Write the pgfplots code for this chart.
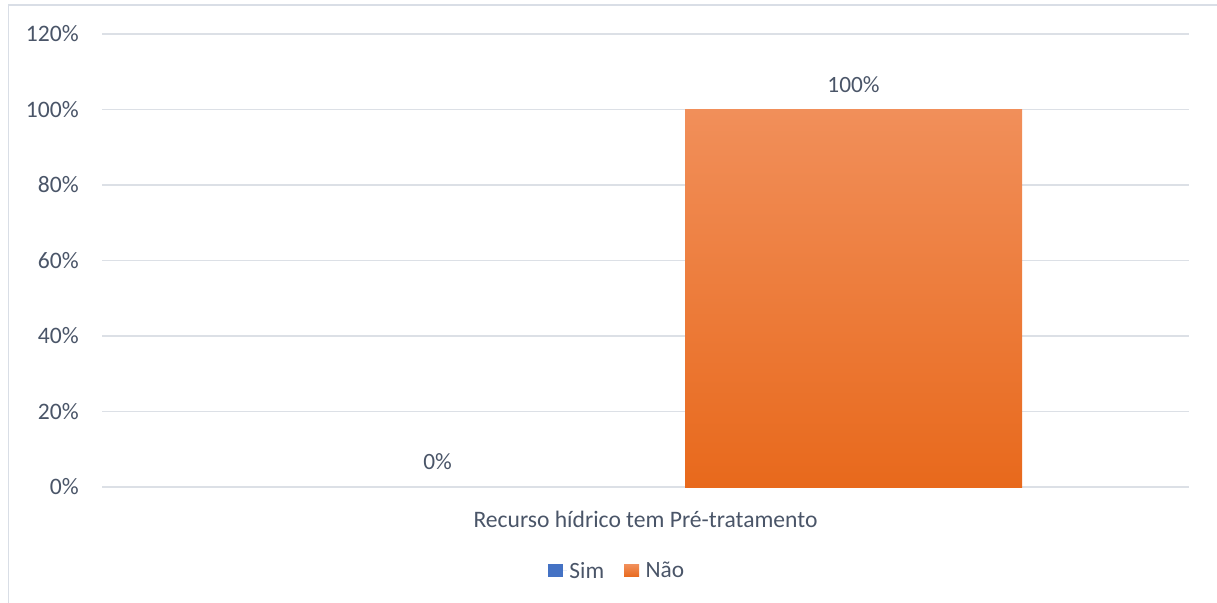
\documentclass[border=0pt]{standalone}
\usepackage{pgfplots}
\pgfplotsset{compat=1.18}
\usepackage{fontspec}
\setmainfont{Carlito}
\definecolor{txt}{HTML}{4A5568}
\definecolor{gridc}{HTML}{DCE0E6}
\definecolor{framec}{HTML}{D9DEE6}
\definecolor{simc}{HTML}{4472C4}
\definecolor{naotop}{HTML}{F18F5A}
\definecolor{naomid}{HTML}{F47E2C}
\definecolor{naobot}{HTML}{E8691C}
\begin{document}
\begin{tikzpicture}
\useasboundingbox (0pt,0pt) rectangle (912.75pt,-452.25pt);
\draw[framec, line width=1.4pt] (6.4pt,-452.25pt) -- (6.4pt,-3.8pt) -- (912.75pt,-3.8pt);
\begin{axis}[
  at={(76.5pt,-365.25pt)}, anchor=south west,
  width=815.25pt, height=339.75pt, scale only axis,
  xmin=-0.5, xmax=0.5, ymin=0, ymax=120,
  ybar, bar width=252.75pt,
  xtick={0}, xticklabels={Recurso hídrico tem Pré-tratamento},
  ytick={0,20,40,60,80,100,120},
  yticklabel={\pgfmathprintnumber{\tick}\%},
  /pgf/number format/assume math mode=true,
  ymajorgrids, grid style={gridc, line width=1.4pt},
  axis line style={draw=none}, major tick length=0pt,
  tick label style={font=\fontsize{17.7}{21}\selectfont, text=txt, inner sep=0pt},
  yticklabel style={anchor=east, xshift=-17.25pt},
  xticklabel style={anchor=center, yshift=-24pt},
  nodes near coords={\pgfmathprintnumber{\pgfplotspointmeta}\%},
  point meta=y,
  every node near coord/.append style={font=\fontsize{17.5}{21}\selectfont, text=txt, anchor=center, inner sep=0pt, yshift=18.75pt},
  clip=false,
  legend style={at={(0.4742,-0.1854)}, anchor=center, draw=none, fill=none,
    font=\fontsize{17.5}{21}\selectfont, text=txt, inner sep=0pt,
    /tikz/every even column/.append style={column sep=13pt}},
  legend columns=2,
  legend image code/.code={\path[#1,draw=none] (0pt,-4.5pt) rectangle (11.25pt,5pt);\path (0pt,0pt) -- (14pt,0pt);},
]
\addplot[draw=none, fill=none, bar shift=-156pt, forget plot] coordinates {(0,0)};
\addplot[draw=none, top color=naotop, middle color=naomid, bottom color=naobot, bar shift=156pt, forget plot] coordinates {(0,100)};
\addlegendimage{fill=simc, draw=none}
\addlegendentry{Sim}
\addlegendimage{draw=none, top color=naotop, middle color=naomid, bottom color=naobot}
\addlegendentry{Não}
\end{axis}
\end{tikzpicture}
\end{document}
